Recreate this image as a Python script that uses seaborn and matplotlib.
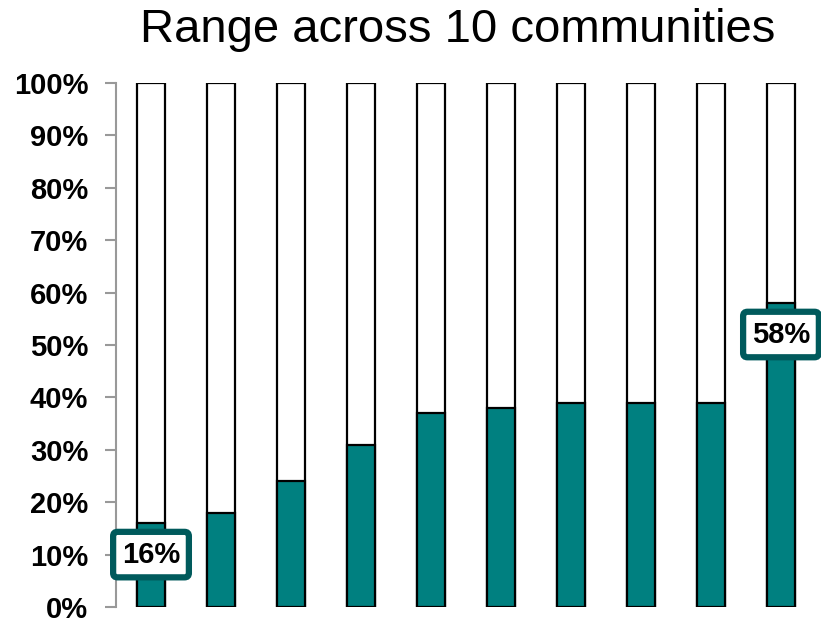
import numpy as np
import pandas as pd
import matplotlib.pyplot as plt
import seaborn as sns

# share of each community (percent), sorted low -> high
communities = ['C1', 'C2', 'C3', 'C4', 'C5', 'C6', 'C7', 'C8', 'C9', 'C10']
shares = [16, 18, 24, 31, 37, 38, 39, 39, 39, 58]
totals = [100] * 10
yticks = [0, 10, 20, 30, 40, 50, 60, 70, 80, 90, 100]

df = pd.DataFrame({'community': communities, 'share': shares, 'total': totals})

sns.set_style('white')
plt.rcParams['font.family'] = ['Liberation Sans', 'DejaVu Sans']
plt.rcParams['text.color'] = 'black'
plt.rcParams['ytick.labelcolor'] = 'black'

fig = plt.figure(figsize=(8.21, 6.18), dpi=100)
ax = fig.add_axes([0.1413, 0.0178, 0.8526, 0.8479])

teal = '#008080'
dark = '#005a5c'

sns.barplot(data=df, x='community', y='total', color='white', edgecolor='black',
            linewidth=1.6, width=0.41, saturation=1, ax=ax)
sns.barplot(data=df, x='community', y='share', color=teal, edgecolor='black',
            linewidth=1.6, width=0.41, saturation=1, ax=ax)

ax.set_xlim(-0.5, 9.5)
ax.set_ylim(0, 100)
ax.set_yticks(yticks)
ax.set_yticklabels([f'{t}%' for t in yticks], fontsize=21, fontweight='bold', color='black')
ax.set_xticks([])
ax.set_xlabel('')
ax.set_ylabel('')

for s in ['top', 'right', 'bottom']:
    ax.spines[s].set_visible(False)
ax.spines['left'].set_color('#999999')
ax.spines['left'].set_linewidth(1.5)
ax.tick_params(axis='y', direction='out', length=8, width=1.5, color='#999999', pad=12, left=True)

# labels for the min and max
for i in [0, len(shares) - 1]:
    ax.text(i, shares[i] - 6, f'{shares[i]}%', ha='center', va='center',
            fontsize=21, fontweight='bold', color='black',
            bbox=dict(boxstyle='round,pad=0.3,rounding_size=0.15', fc='white',
                      ec=dark, lw=4.5))

fig.text(0.557, 0.952, 'Range across 10 communities', ha='center', va='center',
         fontsize=34, color='black')

fig.savefig('out.png', dpi=100)
